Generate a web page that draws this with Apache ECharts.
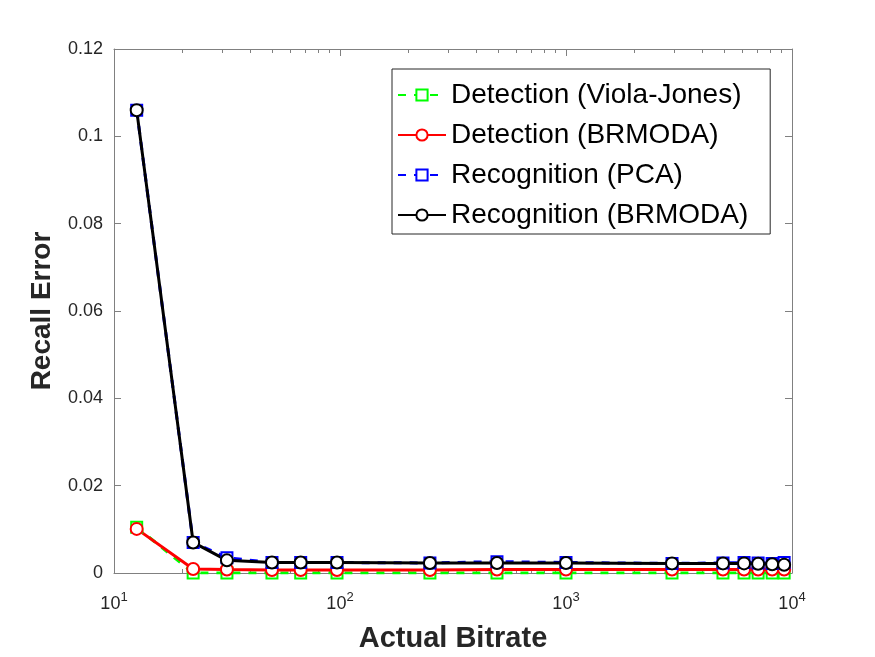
<!DOCTYPE html>
<html><head><meta charset="utf-8">
<script src="https://cdn.jsdelivr.net/npm/echarts@6/dist/echarts.min.js"></script>
<style>html,body{margin:0;padding:0;background:#fff}#c{width:875px;height:657px}</style>
</head><body><div id="c"></div>
<script>
const bitrate = [12.6, 22.4, 31.6, 50, 67, 97, 250, 495, 1000, 2945, 4950, 6135, 7080, 8170, 9230];
const detViolaJones = [0.0105, 0, 0, 0, 0, 0, 0, 0, 0, 0, 0, 0, 0, 0, 0];
const detBRMODA = [0.0101, 0.0009, 0.0008, 0.0007, 0.0007, 0.0007, 0.0007, 0.0008, 0.0008, 0.0008, 0.0008, 0.0008, 0.0008, 0.0008, 0.0008];
const recPCA = [0.106, 0.007, 0.0035, 0.0024, 0.0024, 0.0024, 0.0023, 0.0026, 0.0024, 0.0022, 0.0023, 0.0024, 0.0023, 0.0022, 0.0024];
const recBRMODA = [0.106, 0.007, 0.0029, 0.0024, 0.0024, 0.0024, 0.0023, 0.0023, 0.0023, 0.0022, 0.0022, 0.0022, 0.0021, 0.0020, 0.0019];
const seriesNames = ['Detection (Viola-Jones)', 'Detection (BRMODA)', 'Recognition (PCA)', 'Recognition (BRMODA)'];
const majorX = [10, 100, 1000, 10000];
const minorX = [20,30,40,50,60,70,80,90,200,300,400,500,600,700,800,900,2000,3000,4000,5000,6000,7000,8000,9000];

const pair = ys => bitrate.map((x, i) => [x, ys[i]]);
const axisCol = '#808080', txtCol = '#262626';
const font = 'Liberation Sans, Arial, Helvetica, sans-serif';

function mkSeries(name, ys, color, symbol, dashed) {
  return {
    name, type: 'line', data: pair(ys), symbol, symbolSize: symbol === 'emptyCircle' ? 12 : 11,
    lineStyle: { color, width: 3, type: dashed ? [8, 8] : 'solid' },
    itemStyle: { color, borderColor: color, borderWidth: 3 },
    animation: false, z: 3
  };
}
const xBase = (pos, show, ticks, len) => ({
  type: 'log', logBase: 10, min: 10, max: 10000, position: pos,
  axisLine: { show: show, lineStyle: { color: axisCol, width: 1 } },
  axisTick: { show: true, inside: true, length: len, customValues: ticks, lineStyle: { color: axisCol } },
  axisLabel: { show: false }, splitLine: { show: false }, minorTick: { show: false }
});
const chart = echarts.init(document.getElementById('c'));
chart.setOption({
  backgroundColor: '#fff',
  animation: false,
  grid: { left: 114, right: 83, top: 49, bottom: 84, containLabel: false, outerBoundsMode: 'none' },
  legend: {
    orient: 'vertical', left: 392, top: 69,
    data: seriesNames,
    itemWidth: 48, itemHeight: 14, itemGap: 12,
    padding: [12, 22, 5, 5],
    backgroundColor: '#fff', borderColor: '#262626', borderWidth: 1,
    textStyle: { fontFamily: font, fontSize: 28, color: '#000', lineHeight: 28 }
  },
  xAxis: [
    Object.assign(xBase('bottom', true, majorX, 7), {
      name: 'Actual Bitrate', nameLocation: 'middle', nameGap: 51,
      nameTextStyle: { fontFamily: font, fontSize: 29, fontWeight: 'bold', color: txtCol },
      axisLabel: {
        show: true, customValues: majorX, margin: 18, color: txtCol, fontFamily: font, fontSize: 18,
        formatter: v => '10{s|' + Math.round(Math.log10(v)) + '}',
        rich: { s: { fontSize: 13, fontFamily: font, color: txtCol, padding: [0, 0, 13, 0] } }
      }
    }),
    xBase('bottom', false, minorX, 4),
    xBase('top', true, majorX, 7),
    xBase('top', false, minorX, 4)
  ],
  yAxis: [
    {
      type: 'value', min: 0, max: 0.12, interval: 0.02, position: 'left',
      name: 'Recall Error', nameLocation: 'middle', nameGap: 58,
      nameTextStyle: { fontFamily: font, fontSize: 28, fontWeight: 'bold', color: txtCol },
      axisLine: { show: true, lineStyle: { color: axisCol } },
      axisTick: { show: true, inside: true, length: 7, lineStyle: { color: axisCol } },
      axisLabel: { color: txtCol, fontFamily: font, fontSize: 18, margin: 11 },
      splitLine: { show: false }
    },
    {
      type: 'value', min: 0, max: 0.12, interval: 0.02, position: 'right',
      axisLine: { show: true, lineStyle: { color: axisCol } },
      axisTick: { show: true, inside: true, length: 7, lineStyle: { color: axisCol } },
      axisLabel: { show: false }, splitLine: { show: false }
    }
  ],
  series: [
    mkSeries(seriesNames[0], detViolaJones, '#00ff00', 'emptyRect', true),
    mkSeries(seriesNames[1], detBRMODA, '#ff0000', 'emptyCircle', false),
    mkSeries(seriesNames[2], recPCA, '#0000ff', 'emptyRect', true),
    mkSeries(seriesNames[3], recBRMODA, '#000000', 'emptyCircle', false)
  ]
});
</script></body></html>
